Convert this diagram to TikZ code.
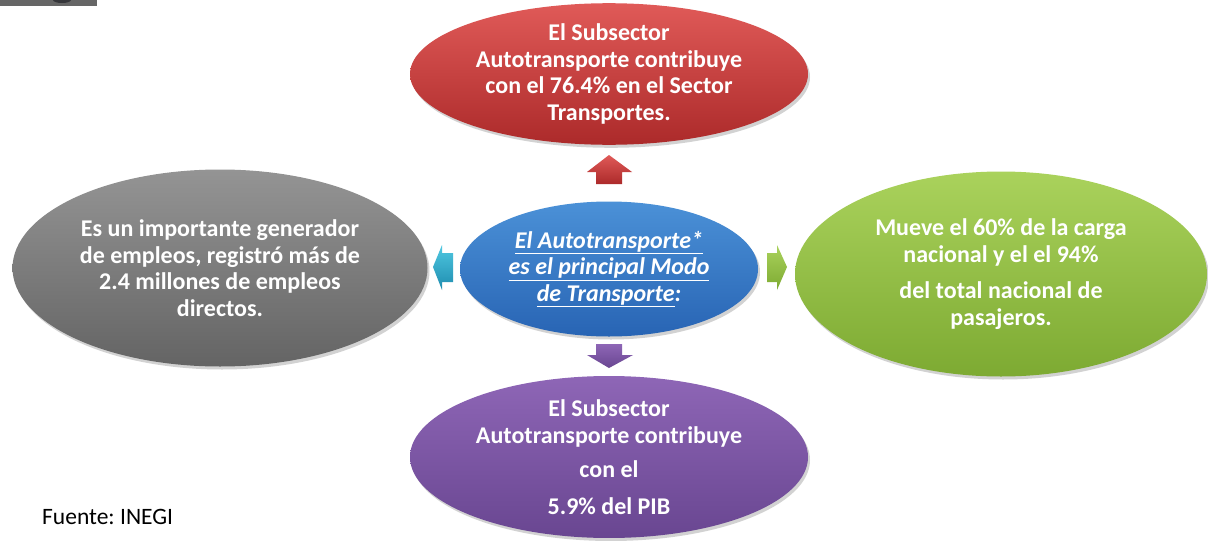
\documentclass[tikz,border=0pt]{standalone}
\usepackage{fontspec}
\setmainfont{Carlito}
\usetikzlibrary{shapes.geometric,shadows}
\definecolor{redT}{RGB}{224,90,88}
\definecolor{redB}{RGB}{172,42,42}
\definecolor{bluT}{RGB}{75,145,215}
\definecolor{bluB}{RGB}{40,100,180}
\definecolor{grayT}{RGB}{148,148,148}
\definecolor{grayB}{RGB}{100,100,100}
\definecolor{grnT}{RGB}{170,210,92}
\definecolor{grnB}{RGB}{125,170,50}
\definecolor{purT}{RGB}{142,102,182}
\definecolor{purB}{RGB}{105,70,145}
\definecolor{cyaT}{RGB}{80,200,225}
\definecolor{cyaB}{RGB}{30,140,175}
\newcommand{\ulx}[1]{\underline{#1\vphantom{p}}}
\frenchspacing
\begin{document}
\begin{tikzpicture}[x=1pt,y=-1pt,
  bubble/.style={ellipse, inner sep=0pt, text=white,
    font=\fontsize{24}{26.5}\selectfont\bfseries, align=center,
    drop shadow={opacity=0.35,shadow xshift=2pt,shadow yshift=-3pt}},
  blockarrow/.style={draw=none},
]
\useasboundingbox (0,0) rectangle (1208,541);
\fill[white] (0,0) rectangle (1208,541);
% top-left fragment
\fill[black!60] (0,0) rectangle (97,6);
\fill[black!80!cyan!60!black] (62,0) ellipse [x radius=9, y radius=3];

% bubbles
\node[bubble, top color=redT, bottom color=redB, minimum width=398pt, minimum height=132pt] (red) at (609,74)
  {El Subsector\\Autotransporte contribuye\\con el 76.4\% en el Sector\\Transportes.};
\node[bubble, top color=bluT, bottom color=bluB, minimum width=298pt, minimum height=135pt,
      font=\fontsize{24}{26.5}\selectfont\bfseries\itshape] (blue) at (609,269)
  {\ulx{El Autotransporte*}\\\ulx{es el principal Modo}\\\ulx{de Transporte}:};
\node[bubble, top color=grayT, bottom color=grayB, minimum width=415pt, minimum height=197pt] (gray) at (220,268)
  {Es un importante generador\\de empleos, registró más de\\2.4 millones de empleos\\directos.};
\node[bubble, top color=grnT, bottom color=grnB, minimum width=412pt, minimum height=205pt] (green) at (1001,274)
  {Mueve el 60\% de la carga\\nacional y el el 94\%\\[10pt]del total nacional de\\pasajeros.};
\node[bubble, top color=purT, bottom color=purB, minimum width=398pt, minimum height=142pt] (purple) at (609,457)
  {El Subsector\\Autotransporte contribuye\\[8pt]con el\\[10pt]5.9\% del PIB};

% block arrows
\shade[blockarrow, top color=redT, bottom color=redB]
  (596,184) -- (596,172) -- (587,172) -- (609,155) -- (632,172) -- (622,172) -- (622,184) -- cycle;
\shade[blockarrow, top color=purT, bottom color=purB]
  (596,344) -- (622,344) -- (622,355) -- (633,355) -- (609,368) -- (587,355) -- (596,355) -- cycle;
\shade[blockarrow, top color=cyaT, bottom color=cyaB]
  (453,253) -- (442,253) -- (442,245) -- (433,267) -- (442,290) -- (442,282) -- (453,282) -- cycle;
\shade[blockarrow, top color=grnT, bottom color=grnB]
  (767,253) -- (777,253) -- (777,245) -- (787,267) -- (777,290) -- (777,282) -- (767,282) -- cycle;

% source
\node[anchor=west, inner sep=0pt, font=\fontsize{23.5}{26}\selectfont] (src) at (42,517) {Fuente: INEGI};
\end{tikzpicture}
\end{document}
